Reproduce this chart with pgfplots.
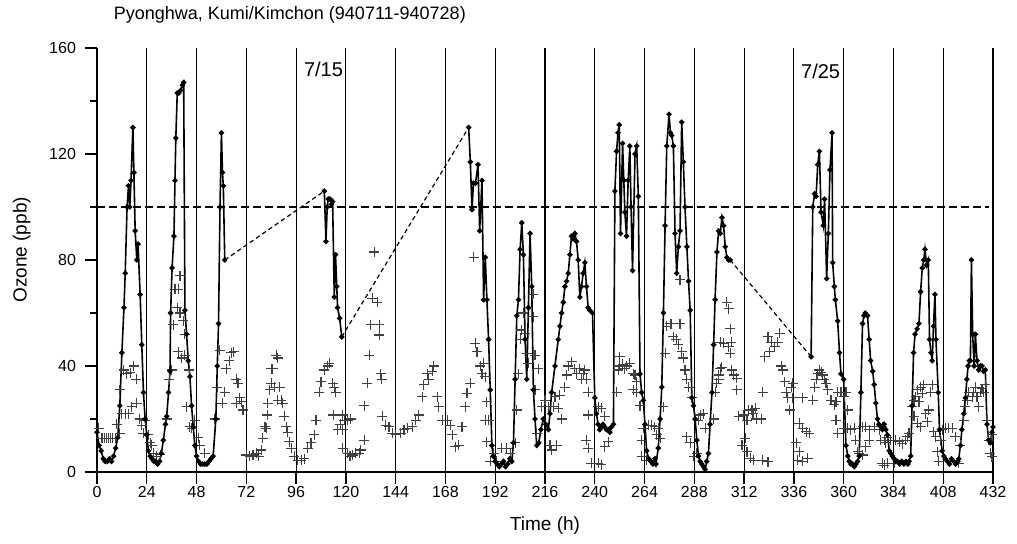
\documentclass[border=0pt]{standalone}
\usepackage{fontspec}
\setmainfont{Liberation Sans}
\usepackage{pgfplots}
\pgfplotsset{compat=1.18}
\begin{document}
\begin{tikzpicture}
\path[use as bounding box] (-48.5pt,-36pt) rectangle (460pt,236pt);
\begin{axis}[
  at={(0,0)}, anchor=south west,
  scale only axis, width=448pt, height=212pt,
  xmin=0, xmax=432, ymin=0, ymax=160,
  xtick={0,24,...,432}, ytick={0,40,...,160}, minor ytick={20,60,100,140},
  axis x line*=bottom, axis y line*=left,
  axis line style={-, line width=0.8pt},
  xmajorgrids, major grid style={black, line width=0.6pt},
  tick align=outside, major tick length=6pt, minor tick length=3.5pt,
  tick style={black, line width=0.7pt},
  /pgf/number format/assume math mode=true,
  x tick label style={font=\fontsize{8}{9}\selectfont, yshift=2.5pt},
  y tick label style={font=\fontsize{8}{9}\selectfont, xshift=-1pt},
  xlabel={Time (h)}, ylabel={Ozone (ppb)},
  xlabel style={font=\fontsize{9.5}{11}\selectfont, at={(axis description cs:0.5,-0.127)}, anchor=center},
  ylabel style={font=\fontsize{9.5}{11}\selectfont, at={(axis description cs:-0.084,0.524)}, anchor=center},
  clip=false,
]
% threshold line
\addplot[black, line width=0.6pt, dash pattern=on 4pt off 2pt] coordinates {(0,100) (430,100)};
% dashed gap connectors
\addplot[black, line width=0.6pt, dash pattern=on 2.2pt off 1.6pt] coordinates {(61.6,80) (109.6,106)};
\addplot[black, line width=0.6pt, dash pattern=on 2.2pt off 1.6pt] coordinates {(118,51) (179.2,130)};
\addplot[black, line width=0.6pt, dash pattern=on 2.2pt off 1.6pt] coordinates {(305.3,80) (344.3,43.5)};
% second station (+)
\addplot[only marks, mark=+, mark size=2.5pt, black!75, mark options={line width=0.55pt}] coordinates {
(0.8,16.5) (2.4,12.7) (3.5,12.7) (4.5,12.7) (5.5,12.7) (6.5,12.7) (7.5,12.7) (8.8,12.7) (9.6,18) (11,14.6) (11,31) (12,22) (12.8,38.5) (13.6,22) (14.4,37) (15.2,22) (16,37.5) (16.8,24.6) (17.6,40) (18.9,35) (19.2,26) (20.5,20) (21.6,17.7) (22.4,14.6) (23.2,19.6) (24.8,14) (25.6,11) (26.4,10) (27.2,7) (28.8,6) (30.4,6.5) (33.6,20) (34.9,35) (36,38.5) (36.8,55.5) (37.6,69) (38.7,62) (39.2,69) (39.2,45.4) (40,74) (40,60) (40.8,43) (41.6,57) (42.4,52) (42.4,44) (43.2,24.6) (44.5,38.5) (44.8,17) (45.6,16.5) (47.2,19.6) (48.8,13) (49.6,10) (52,7) (56.8,20) (58,32) (59.2,46) (60.5,26) (61.6,30) (62.4,39) (63.7,42) (64.8,45) (66,45.4) (67.2,35) (67.2,26) (68,33.5) (68.8,28) (69.6,26.5) (70.4,23.4) (72,6.4) (73.6,6) (75.2,6.4) (76.8,7) (78,6) (79.2,8.3) (80,12.7) (81,17) (81.6,16.5) (82,21.5) (82.4,26) (83.2,31) (84,33.5) (84,39) (84.8,39) (85.6,32) (86.4,44) (87.2,43) (87.2,27) (88,32) (88.8,27) (89.6,26) (90.4,21) (91.2,17) (92,15) (92.8,11.4) (93.6,9) (95.2,6) (96.8,4.5) (98.4,4.5) (100,5) (101.6,9) (103.2,11) (104.8,14) (105.6,19.6) (107.2,30) (108,34) (109.6,38.5) (111.2,40) (112,41) (113.6,33.5) (114.4,32) (115.2,30) (114,21.5) (116,16) (117.3,18) (118.4,21.5) (118.4,16) (119.2,19.6) (120.8,19.6) (122.4,20) (118.4,9) (120.8,7) (122,6) (123.2,6.4) (124.8,7) (126.4,7) (127.2,8.3) (128.8,12) (128.8,25) (130.4,33.5) (131.2,44) (132,55.5) (132.8,65.5) (133.6,83) (135.2,64) (136,55.5) (136,51.7) (136.8,37) (137.2,35) (137.6,21) (139.2,17.7) (140.8,17) (142.4,14.6) (144,14) (146.4,14.6) (148,16) (149.6,16.5) (152,17) (153.6,19.6) (155.2,21.5) (156.8,28.4) (157.6,33) (159.2,37) (160,35) (161.6,38) (162.4,40) (164,28.4) (164.8,24.6) (166.4,19.6) (168.8,19.6) (170.4,17.7) (171.2,14) (172.8,9.6) (174.4,10) (176,17) (177.6,24.6) (178.4,29.7) (180,33.5) (181.6,81) (182.4,48.5) (183.2,45.4) (184.8,40) (185.6,37) (186.4,41) (187.2,36) (188,26.5) (187.2,19.6) (188.8,19.6) (188,11.4) (189.6,4) (191.2,7) (192.8,4) (195.2,9) (197.6,9) (199.2,7) (201.6,11) (202.4,23.4) (203.2,37) (204,50) (204.5,53.6) (205.6,60) (206.4,52.3) (207.2,44.8) (208,41) (210.4,67) (210.4,58.6) (211.2,44) (212.8,39) (211.2,31) (212,14.6) (214.4,24.6) (216,27) (217.6,24.6) (218.4,10) (219.2,8.3) (220,24.6) (220.8,28.4) (221.6,10) (222.4,24) (223.2,29) (224,20) (225.6,32) (226.4,36.6) (227.2,40) (228.8,41.6) (230.4,39) (231.2,37) (232.8,39) (233.6,35) (234.4,37) (235.2,38.5) (236,35) (236.8,30) (236.8,21.5) (236,12) (236.8,9) (238.4,3.3) (241.6,3.3) (243.2,2.7) (241.6,24.6) (243.2,24) (244.8,21) (244.8,9.6) (246.5,11.4) (250.5,30) (251.3,38.5) (252.1,43.5) (252.1,40) (253.4,40.6) (254.5,39) (255.3,40) (256.9,41) (258.5,37) (258.5,31) (259.4,36.6) (260.2,34) (260.2,30) (261.8,25) (262.6,12) (263.4,16.5) (262.6,6) (265,4.5) (266,17.7) (267.4,17.7) (269,17) (270.6,16.5) (269.8,14) (271.5,12.7) (273,24.6) (273.9,44.8) (274.7,55) (276.3,56) (277.1,56) (277.9,51) (279.2,50) (280.3,48) (281.1,56) (281.1,72.5) (281.9,45.4) (282.7,43) (283.5,38.5) (284.4,35) (285.2,32) (286.8,28) (284.4,13.3) (286,11) (287.6,6) (289.2,7) (290,19.6) (290.8,21.5) (292.4,22) (293.2,16.5) (297.3,20) (298,30) (298.9,33.5) (299.7,36.6) (300.5,39) (301.3,39.6) (299.7,35) (303.7,64) (304.5,61.6) (305.3,54) (300.5,49) (302.1,48.5) (304.5,47.3) (305.9,49) (305.3,44.8) (306.1,38.5) (306.9,36.6) (308.5,35.3) (308.5,31) (309.4,21) (311.8,21.5) (313.4,19.6) (314.2,23.4) (315.8,23.4) (317.4,24) (311,10) (312.6,12.7) (313.4,7.7) (315,5.2) (316.6,4.5) (316.3,22) (317.9,20) (320.3,20) (321,30) (321,4.5) (323.5,3.8) (321.9,43.5) (323.5,51) (324.3,45.4) (325.1,49) (326.7,47.3) (328.3,49) (329.1,52.3) (329.9,40) (330.7,38.5) (331.5,34) (332.3,30) (333.1,28) (333.9,23.4) (334.7,32) (335.5,28) (335.5,33.5) (338.7,18.4) (340.3,16.5) (341.9,15.2) (343.5,14.6) (337.1,11) (338.7,7.7) (337.9,4.5) (340.3,4) (342.7,5.2) (340.3,28) (345.1,27) (346,32) (346.7,35) (347.5,37) (348.3,38.5) (349.1,37.7) (349.9,36.6) (350.7,35) (351.5,33.5) (352.3,31) (353.9,27) (355.5,25.3) (356.3,26.5) (357.1,30) (358.7,30) (360.3,28.4) (361.1,30) (361.9,23.4) (356.3,19.6) (357.1,14.6) (360.3,16.5) (361.9,16.5) (363.5,16) (365.1,16.5) (365.9,12) (366.7,7.7) (367.5,7) (369.1,6.4) (370.7,9.6) (372.3,12) (369.1,17) (370.7,17) (372.3,16) (374.7,17) (377.1,16) (378.7,17) (379.5,2.6) (380.3,11) (377.9,12) (379.5,12) (381.1,13) (382.7,12) (385.1,12) (386.7,11.4) (388.3,10.7) (389.9,12) (390.7,13.3) (391.5,14.6) (378.7,3.3) (381.1,3.3) (384.3,3.3) (393.1,24.6) (393.9,27) (394.7,28.4) (395.5,31) (396.3,26.5) (397.1,32) (397.9,29.7) (393.9,21) (395.5,18.4) (397.1,17) (398.7,33) (399.5,22) (400.3,19) (401.1,23.4) (401.9,30) (402.7,33) (403.5,15.2) (404.3,13.3) (405.1,7.7) (405.9,4) (406.7,12) (407.5,16) (409.1,16.5) (410.7,16.5) (412.3,16.5) (413.9,13.3) (416.3,10) (415.5,3.3) (417.9,19.6) (418.7,24.6) (419.5,27) (420.3,30) (421.9,28.4) (422.7,30) (423.5,32) (424.3,28.4) (425.1,24.6) (425.9,30) (426.7,31.4) (427.5,30) (428.3,33) (429.1,19.6) (429.9,12) (430.7,7) (431.5,14) (431.5,5.7)
};
% main station (line with dots)
\addplot[black, line width=0.8pt, mark=*, mark size=0.9pt] coordinates {
(0,15) (1,10) (2,8) (3,5) (4,4) (5,4) (6,5) (7,4) (8,6) (9,9) (10,13) (11,25) (12,45) (13,62) (13.6,75) (14.5,100) (15.2,108) (15.8,100) (16.4,110) (17.3,130) (17.8,113) (18.4,91) (19.2,80) (19.8,86) (20.8,67) (21.6,48) (22.4,30) (23.2,20) (24,14) (24.8,8) (25.6,6) (26.5,5) (27.4,4) (28.3,4) (29.2,3) (30.2,4) (31,7) (32,12) (33,18) (33.6,21) (34.5,30) (35.2,38) (35.5,60) (36.2,77) (37.1,89) (37.6,110) (38,126) (38.7,143) (39.5,143) (40.3,144) (41.2,146) (41.8,147) (42.4,61) (43.2,52) (44,42) (44.8,36) (45.6,25) (46.4,17) (47.2,10) (48,6) (49,4) (50,3) (51,3) (52,3) (53,3) (54,4) (55,5) (56,6) (57.3,20) (58,40) (58.6,56) (59.3,100) (60,128) (60.5,113) (60.9,108) (61.6,80)
};
\addplot[black, line width=0.8pt, mark=*, mark size=0.9pt] coordinates {
(109.6,106) (110.4,87) (111,100) (111.5,103) (112.3,103) (113,101) (113.6,102) (114.4,66) (115,82) (115.6,70) (116,62) (117,58) (118,51)
};
\addplot[black, line width=0.8pt, mark=*, mark size=0.9pt] coordinates {
(179.2,130) (180,117) (180.8,99) (181.5,109) (182.5,109) (183.7,116) (184.5,91) (185.6,110) (186.4,65) (187.2,81) (188,65) (188.8,50) (189.6,31) (190.4,10) (191,6) (192,4) (193,3) (194,2) (195,3) (196,4) (197,2) (198,3) (199,5) (200,4) (200.8,11) (201.6,35) (202.4,59) (203.2,65) (204,84) (204.8,94) (205.6,82) (206.4,50) (207.2,35) (208,62) (208.8,90) (209.6,70) (210.4,31) (211.2,20) (212,10) (213,11) (214,16) (215.2,20) (216.4,18) (217.6,16) (218.4,22) (219.2,30) (220.8,40) (222.4,50) (223.2,55) (224,60) (224.8,64) (225.6,70) (226.4,72) (227.2,75) (228,82) (228.8,89) (229.6,88) (230.4,90) (231.2,87) (232,80) (232.8,66) (233.6,70) (234.4,75) (235.2,79) (236,70) (236.8,62) (237.6,61) (238.9,60) (240,28) (240.8,22) (241.6,18) (242.4,16) (243.2,17) (244,18) (244.8,17) (245.6,16) (246.5,16) (247.3,15) (248.1,17) (249,18) (249.7,106) (250.5,121) (251.2,128) (251.8,131) (252.4,90) (253.4,124) (254,110) (254.5,98) (255.3,89) (256.1,110) (256.9,123) (257.5,100) (258.2,76) (259.4,120) (260.2,123) (261,104) (261.8,37) (262.6,30) (263.4,27) (264.2,18) (265,8) (266,5) (267,4) (268,3) (269,5) (269.5,3) (270.6,9) (271.5,20) (272.3,32) (273.1,60) (273.9,93) (274.7,123) (275.8,135) (276.5,128) (277.1,127) (277.9,123) (278.7,90) (279.5,75) (280.3,85) (281.1,91) (281.9,132) (282.7,117) (283.5,100) (284.4,85) (285.2,72) (286,61) (286.8,28) (287.6,25) (288.4,20) (289.2,12) (290,6) (290.8,4) (291.6,3) (292.4,2) (293.2,1) (294,4) (294.8,7) (295.6,18) (296.5,30) (297.3,48) (298,65) (298.9,83) (299.7,91) (300.5,90) (301.3,96) (302.1,93) (302.9,85) (303.7,81) (304.5,80) (305.3,80)
};
\addplot[black, line width=0.8pt, mark=*, mark size=0.9pt] coordinates {
(344.3,43.5) (345.1,100) (346,105) (346.7,104) (347.5,116) (348.3,121) (349.1,98) (350.2,93) (350.8,103) (351.8,73) (352.6,90) (353.4,114) (354.4,128) (354.7,79) (355.5,70) (356,65) (357.1,57) (358,45) (358.7,37) (360,35) (361.1,10) (362,6) (362.7,4) (363.5,3) (364.3,3) (365.1,2) (365.9,3) (366.7,4) (367.5,6) (368.3,30) (369.1,56) (369.8,59) (370.4,60) (371.5,59) (372.3,50) (373,42) (374,38) (374.7,33) (375.5,26) (376.3,20) (377,18) (378,17) (378.7,16) (379.5,18) (380.3,16) (381.1,14) (382,8) (382.7,7) (383.5,6) (384.3,5) (385,4) (386,4) (387,3) (388,4) (389,3) (390,4) (391,3) (391.5,4) (392.3,6) (393,25) (393.7,45) (394.4,52) (395.4,54) (396.3,56) (397.1,68) (397.9,77) (398.6,80) (399.2,84) (400,78) (400.8,80) (401.4,50) (402.1,45) (402.7,42) (403.3,55) (404,67) (404.5,50) (405.6,30) (406.2,16) (407.5,8) (408.3,6) (409,5) (410,4) (411,3) (412,5) (413,4) (414,3) (415,4) (415.5,5) (416.3,10) (417,16) (417.9,22) (418.7,28) (419.4,35) (420,40) (420.6,42) (421.1,42) (421.6,80) (422.2,52) (422.9,40) (423.5,52) (424.3,42) (425.1,38.5) (425.9,40) (426.7,40) (427.5,38) (428.3,38.5) (429.1,18) (429.9,12) (430.7,11) (431.5,15) (432,17)
};
\node[anchor=west, font=\fontsize{9}{11}\selectfont] at (axis description cs:0.011,1.078) {Pyonghwa, Kumi/Kimchon (940711-940728)};
\node[font=\fontsize{10}{12}\selectfont] at (axis cs:109.2,152) {7/15};
\node[font=\fontsize{10}{12}\selectfont] at (axis cs:348.9,151) {7/25};
\end{axis}
\end{tikzpicture}
\end{document}
